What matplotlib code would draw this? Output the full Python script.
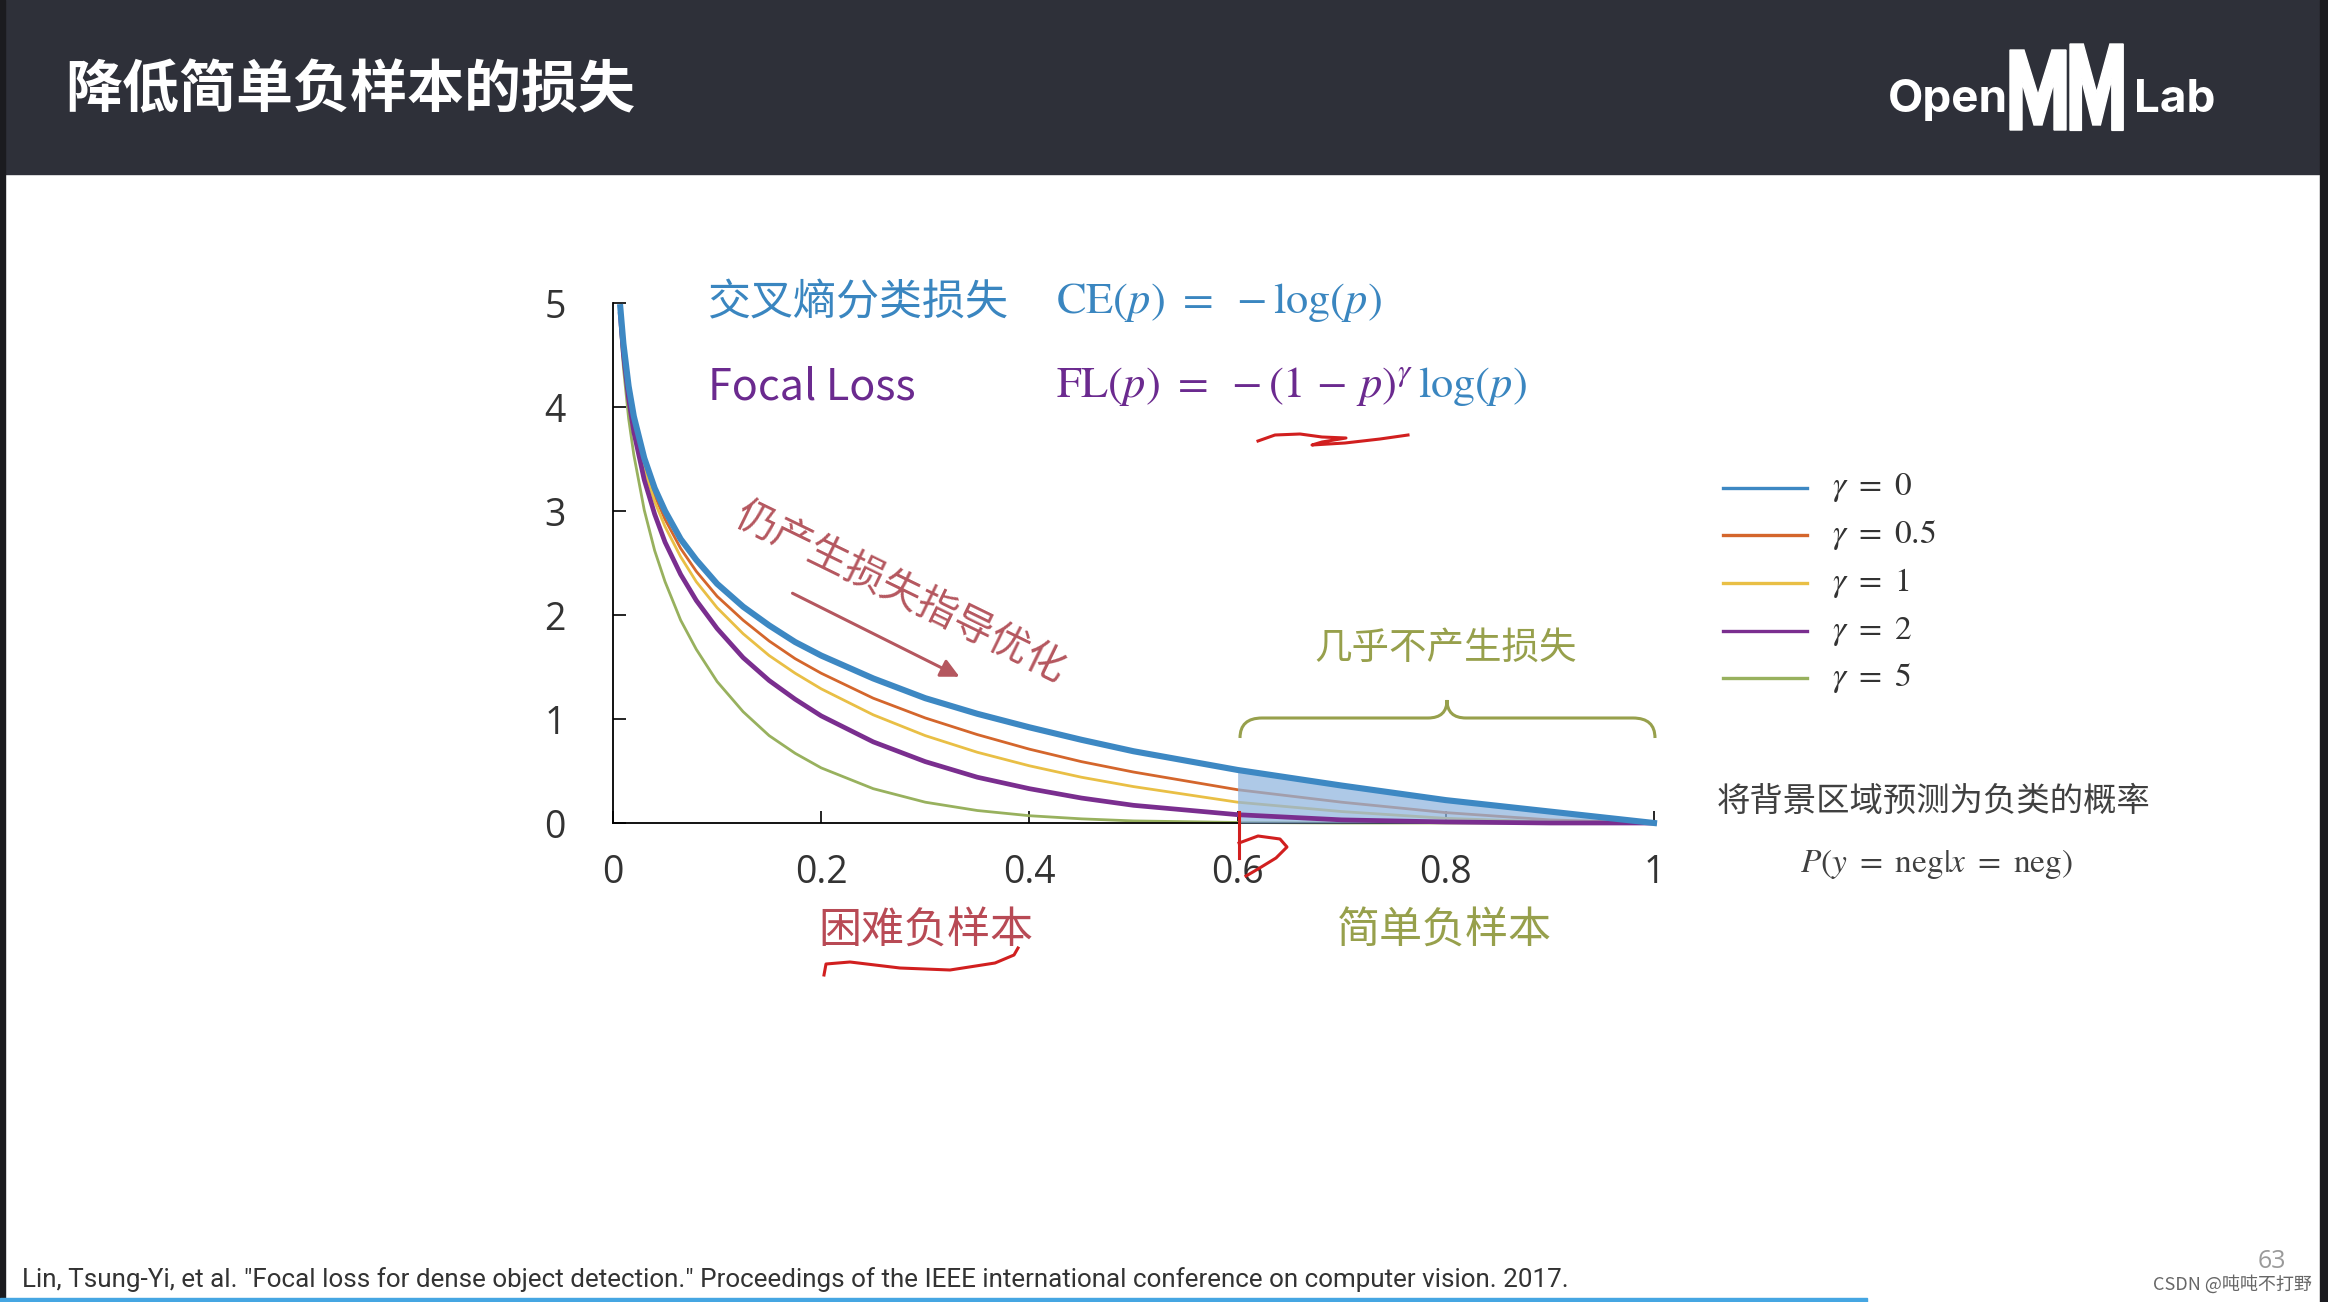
import matplotlib.pyplot as plt
from matplotlib.path import Path
from matplotlib.patches import PathPatch, Rectangle, Polygon, FancyArrowPatch

plt.rcParams['mathtext.fontset'] = 'stix'
CJK = ['Noto Sans CJK SC', 'DejaVu Sans']

# probability of predicting background as negative, and loss values
p = [0.007, 0.01, 0.015, 0.02, 0.03, 0.04, 0.05, 0.065, 0.08, 0.1, 0.125, 0.15, 0.175,
     0.2, 0.25, 0.3, 0.35, 0.4, 0.45, 0.5, 0.6, 0.7, 0.8, 0.9, 1.0]
loss_g0 = [4.96, 4.61, 4.20, 3.91, 3.51, 3.22, 3.00, 2.73, 2.53, 2.30, 2.08, 1.90, 1.74,
           1.61, 1.39, 1.20, 1.05, 0.92, 0.80, 0.69, 0.51, 0.36, 0.22, 0.11, 0.0]
loss_g05 = [4.95, 4.58, 4.17, 3.87, 3.45, 3.15, 2.92, 2.64, 2.42, 2.18, 1.95, 1.75, 1.58,
            1.44, 1.20, 1.01, 0.85, 0.71, 0.59, 0.49, 0.32, 0.20, 0.10, 0.03, 0.0]
loss_g1 = [4.93, 4.56, 4.14, 3.83, 3.40, 3.09, 2.85, 2.56, 2.32, 2.07, 1.82, 1.61, 1.44,
           1.29, 1.04, 0.84, 0.68, 0.55, 0.44, 0.35, 0.20, 0.11, 0.045, 0.01, 0.0]
loss_g2 = [4.89, 4.51, 4.08, 3.76, 3.30, 2.97, 2.70, 2.39, 2.14, 1.87, 1.59, 1.37, 1.19,
           1.03, 0.78, 0.59, 0.44, 0.33, 0.24, 0.17, 0.08, 0.03, 0.01, 0.0, 0.0]
loss_g5 = [4.79, 4.38, 3.89, 3.54, 3.01, 2.62, 2.32, 1.95, 1.67, 1.36, 1.07, 0.84, 0.67,
           0.53, 0.33, 0.20, 0.12, 0.07, 0.04, 0.02, 0.005, 0.0, 0.0, 0.0, 0.0]

gamma_labels = [r'$\gamma\ =\ 0$', r'$\gamma\ =\ 0.5$', r'$\gamma\ =\ 1$', r'$\gamma\ =\ 2$', r'$\gamma\ =\ 5$']
colors = ['#3d88c3', '#d4662c', '#e9bf45', '#7a2e8f', '#98b15e']
xticks = [0, 0.2, 0.4, 0.6, 0.8, 1]
xticklabels = ['0', '0.2', '0.4', '0.6', '0.8', '1']
yticks = [0, 1, 2, 3, 4, 5]
easy_from = 0.6

W, H = 2328, 1302
fig = plt.figure(figsize=(W / 100, H / 100), dpi=100, facecolor='white')

# main chart
ax = fig.add_axes([613 / W, 1 - 823 / H, (1654 - 613) / W, (823 - 303) / H], zorder=1)
ax.patch.set_visible(False)
thin = dict(lw=2.0, clip_on=False, solid_capstyle='round')
ax.plot(p, loss_g05, color=colors[1], zorder=2, **thin)
ax.plot(p, loss_g1, color=colors[2], zorder=2, **thin)
ax.plot(p, loss_g5, color=colors[4], zorder=2, **thin)
pe = [v for v in p if v >= easy_from]
ce = [loss_g0[i] for i, v in enumerate(p) if v >= easy_from]
ax.fill_between(pe, ce, 0, color='#8fb5df', alpha=0.72, lw=0, zorder=3)
ax.plot(p, loss_g2, color=colors[3], lw=3.4, clip_on=False, zorder=4)
ax.plot(p, loss_g0, color=colors[0], lw=4.4, clip_on=False, zorder=5)

ax.set_xlim(0, 1)
ax.set_ylim(0, 5)
ax.spines['top'].set_visible(False)
ax.spines['right'].set_visible(False)
for s in ('left', 'bottom'):
    ax.spines[s].set_linewidth(1.3)
ax.set_xticks(xticks)
ax.set_xticklabels(xticklabels, fontfamily='Open Sans', fontsize=27, color='#333333')
ax.set_yticks(yticks)
ax.set_yticklabels([str(v) for v in yticks], fontfamily='Open Sans', fontsize=27, color='#333333')
ax.tick_params(axis='both', direction='in', length=9, width=1.2)
ax.tick_params(axis='x', pad=22)
ax.tick_params(axis='y', pad=34)

# overlay in pixel coordinates for the slide decorations
ov = fig.add_axes([0, 0, 1, 1], zorder=3)
ov.set_xlim(0, W)
ov.set_ylim(H, 0)
ov.axis('off')

ov.add_patch(Rectangle((0, 0), W, 174, color='#2e3039', zorder=0))
ov.add_patch(Rectangle((0, 0), 5, H, color='#1b1b1f', zorder=1))
ov.add_patch(Rectangle((2320, 0), 8, H, color='#1b1b1f', zorder=1))
ov.add_patch(Rectangle((0, 1298), 1867, 4, color='#45a6e2', zorder=1))

ov.text(65, 90, '降低简单负样本的损失', color='white', fontsize=41, fontweight='bold',
        family=CJK, va='center', ha='left')

# OpenMMLab logo
ov.text(1888, 100, 'Open', color='white', fontsize=33, fontweight='bold', family='Inter',
        va='center', ha='left')
m_shape = [(0, 80), (0, 0), (14, 0), (28, 45), (42, 0), (56, 0), (56, 80), (44, 80),
           (44, 32), (32, 75), (24, 75), (12, 32), (12, 80)]
ov.add_patch(Polygon([(2010 + x, 50 + y) for x, y in m_shape], color='white'))
ov.add_patch(Polygon([(2070 + x * 0.95, 44 + y * 1.08) for x, y in m_shape], color='white'))
ov.text(2134, 100, 'Lab', color='white', fontsize=33, fontweight='bold', family='Inter',
        va='center', ha='left')

# formulas
ov.text(708, 303, '交叉熵分类损失', color='#3a86c0', fontsize=31, family=CJK, va='center')
ov.text(1056, 303, r'$\mathrm{CE}(p)\ =\ -\log(p)$', color='#3a86c0', fontsize=32, va='center')
ov.text(708, 387, 'Focal Loss', color='#6b2a8f', fontsize=31, family=CJK, va='center')
ov.text(1056, 387, r'$\mathrm{FL}(p)\ =\ -(1\,-\,p)^{\gamma}$', color='#6b2a8f', fontsize=32, va='center')
ov.text(1418, 387, r'$\log(p)$', color='#3a86c0', fontsize=32, va='center')

red = '#d11f1f'
ov.plot([1258, 1275, 1300, 1322, 1346, 1322, 1312, 1345, 1380, 1408],
        [441, 435, 434, 437, 438, 442, 445, 443, 439, 435], color=red, lw=2.2)

# annotations
rose = '#b5575f'
ov.text(900, 592, '仍产生损失指导优化', color=rose, fontsize=29, family=CJK,
        rotation=-26, rotation_mode='anchor', ha='center', va='center')
ov.add_patch(FancyArrowPatch((790, 592), (962, 678), arrowstyle='-|>', mutation_scale=28,
                             color=rose, lw=2.2))

olive = '#97a04c'
ov.text(1446, 648, '几乎不产生损失', color=olive, fontsize=27, family=CJK, ha='center', va='center')
brace = Path([(1240, 738), (1240, 718), (1262, 718), (1428, 718), (1447, 718), (1447, 700),
              (1447, 718), (1466, 718), (1633, 718), (1655, 718), (1655, 738)],
             [Path.MOVETO, Path.CURVE3, Path.CURVE3, Path.LINETO, Path.CURVE3, Path.CURVE3,
              Path.CURVE3, Path.CURVE3, Path.LINETO, Path.CURVE3, Path.CURVE3])
ov.add_patch(PathPatch(brace, fill=False, edgecolor=olive, lw=2.2))

ov.plot([1239, 1239], [812, 858], color=red, lw=2.2)
ov.plot([1239, 1258, 1280, 1287, 1276, 1258, 1246], [843, 836, 839, 847, 858, 869, 876], color=red, lw=2.2)

ov.text(926, 932, '困难负样本', color='#b84a55', fontsize=31, family=CJK, ha='center', va='center')
ov.plot([824, 826, 850, 900, 950, 995, 1014, 1018], [975, 964, 962, 968, 970, 963, 955, 948],
        color=red, lw=2.2)
ov.text(1444, 932, '简单负样本', color=olive, fontsize=31, family=CJK, ha='center', va='center')

# legend
rows = [488, 535, 583, 631, 678]
for y, c, lab in zip(rows, colors, gamma_labels):
    ov.plot([1723, 1807], [y, y], color=c, lw=2.4)
    ov.text(1832, y, lab, fontsize=24, color='#333333', va='center', ha='left')

ov.text(1934, 801, '将背景区域预测为负类的概率', color='#404040', fontsize=24, family=CJK,
        ha='center', va='center')
ov.text(1936, 864, r'$P(y\ =\ \mathrm{neg}|x\ =\ \mathrm{neg})$', color='#404040', fontsize=24,
        ha='center', va='center')

ov.text(22, 1280, 'Lin, Tsung-Yi, et al. "Focal loss for dense object detection." Proceedings of '
        'the IEEE international conference on computer vision. 2017.',
        color='#333333', fontsize=18.7, family=['Liberation Sans Narrow', 'Roboto'], va='center')
ov.text(2286, 1262, '63', color='#9a9a9a', fontsize=18, family='Open Sans', ha='right', va='center')
ov.text(2312, 1284, 'CSDN @吨吨不打野', color='#666666', fontsize=13, family=CJK, ha='right', va='center')

fig.savefig('out.png', dpi=100, facecolor='white')
